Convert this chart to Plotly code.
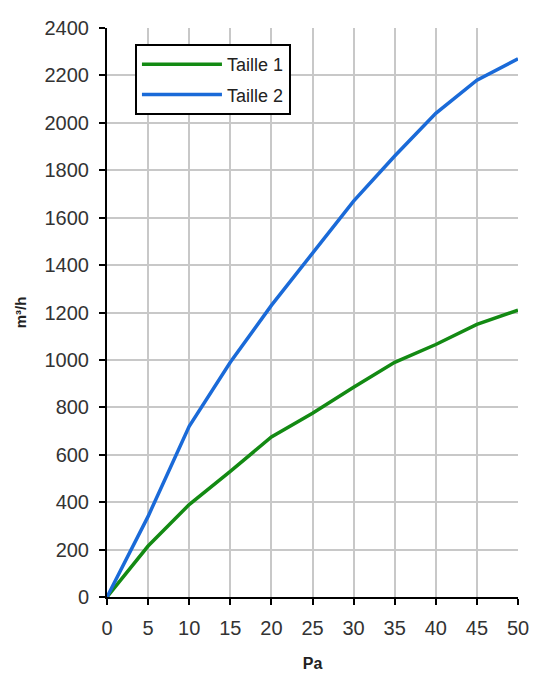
import plotly.graph_objects as go

pa = [0, 5, 10, 15, 20, 25, 30, 35, 40, 45, 50]
taille1 = [0, 215, 390, 530, 675, 775, 885, 990, 1065, 1150, 1210]
taille2 = [0, 340, 720, 990, 1230, 1450, 1670, 1860, 2040, 2180, 2270]
series_names = ["Taille 1", "Taille 2"]
colors = ["#138a13", "#1a6ad8"]

fig = go.Figure()
for name, vals, c in zip(series_names, [taille1, taille2], colors):
    fig.add_trace(go.Scatter(x=pa, y=vals, mode="lines", name=name, legendgroup=name,
                             line=dict(color=c, width=3.5)))

fig.update_layout(
    width=533, height=673,
    margin=dict(l=107, r=15, t=28, b=76, autoexpand=False),
    paper_bgcolor="white", plot_bgcolor="white",
    font=dict(family="Liberation Sans, Arial", size=20, color="#333333"),
    showlegend=True,
    legend=dict(x=0.068, y=0.972, xanchor="left", yanchor="top",
                bgcolor="white", bordercolor="black", borderwidth=2,
                font=dict(size=18, color="#222222"),
                traceorder="grouped", tracegroupgap=4,
                itemwidth=80),
    xaxis=dict(range=[0, 50], tickmode="linear", dtick=5, automargin=False,
               showgrid=True, gridcolor="#c8c8c8", gridwidth=1.5,
               showline=True, linecolor="black", linewidth=2,
               ticks="outside", ticklen=6, tickcolor="black", tickwidth=2,
               ticklabelstandoff=6, ticklabeloverflow="allow",
               zeroline=False,
               title=dict(text="<b>Pa</b>", font=dict(size=16, color="#222222"), standoff=20)),
    yaxis=dict(range=[0, 2400], tickmode="linear", dtick=200, automargin=False,
               showgrid=True, gridcolor="#c8c8c8", gridwidth=1.5,
               showline=True, linecolor="black", linewidth=2,
               ticks="outside", ticklen=6, tickcolor="black", tickwidth=2,
               ticklabelstandoff=6, ticklabeloverflow="allow",
               zeroline=False,
               title=dict(text="<b>m³/h</b>", font=dict(size=15, color="#222222"), standoff=14)),
)

fig.write_html("out.html", config={"displayModeBar": False},
               post_script="document.body.style.margin='0';document.body.style.overflow='hidden';")
